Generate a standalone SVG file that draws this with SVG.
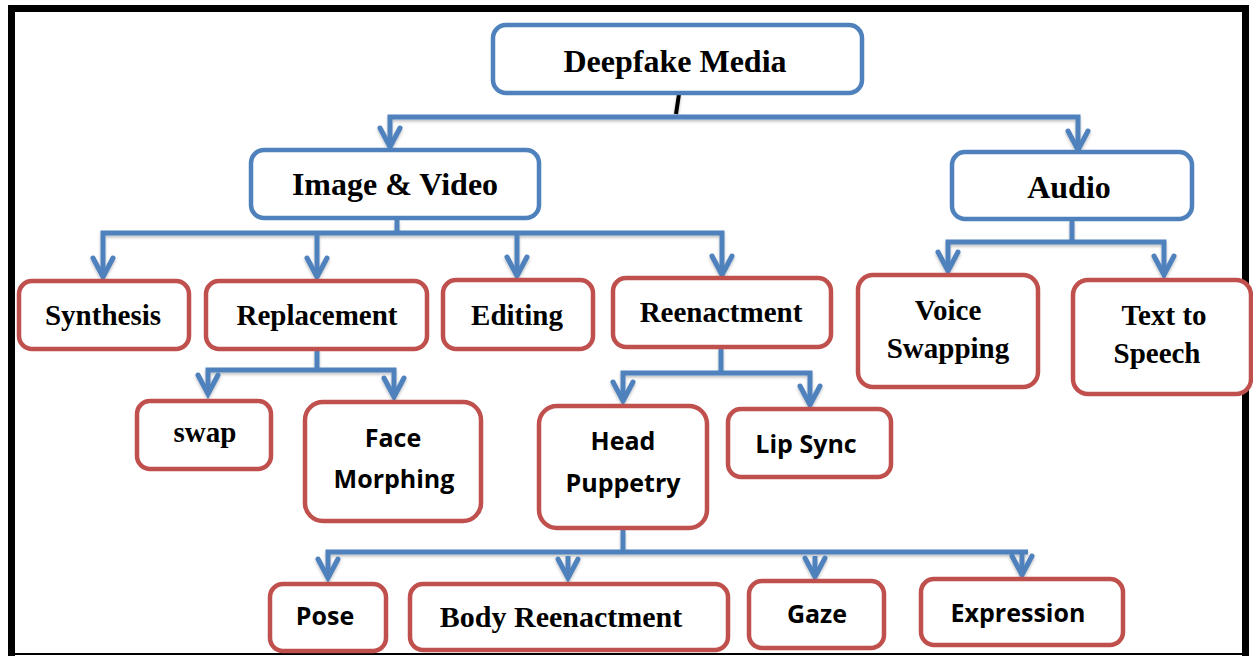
<svg xmlns="http://www.w3.org/2000/svg" width="1253" height="656" viewBox="0 0 1253 656">
<defs>
<style>
.bb{fill:#fff;stroke:#4F81BD;stroke-width:4.5}
.rb{fill:#fff;stroke:#C0504D;stroke-width:4.5}
.ser{font-family:"Liberation Serif","Times New Roman",serif;font-weight:bold;fill:#000;text-anchor:middle}
.big{font-size:32px}
.mid{font-size:29px}
.sans{font-family:"Open Sans","Liberation Sans",sans-serif;font-weight:bold;font-size:25px;fill:#000;text-anchor:middle}
.cn{fill:none;stroke:#4F81BD;stroke-width:5;stroke-linejoin:miter}
</style>
<marker id="arr" markerUnits="userSpaceOnUse" viewBox="-24 -14 30 28" markerWidth="30" markerHeight="28" refX="0" refY="0" orient="auto">
<path d="M-19,-10 L0,0 L-19,10" fill="none" stroke="#4F81BD" stroke-width="5" stroke-linecap="round" stroke-linejoin="miter"/>
</marker>
<filter id="sh" x="-5%" y="-20%" width="110%" height="160%">
<feDropShadow dx="0" dy="2" stdDeviation="1.5" flood-color="#000" flood-opacity="0.25"/>
</filter>
</defs>
<rect width="1253" height="656" fill="#fff"/>
<rect x="11.5" y="8.5" width="1234" height="660" fill="none" stroke="#000" stroke-width="7"/>
<line x1="8" y1="654" x2="1249" y2="654" stroke="#000" stroke-width="2"/>

<g id="connectors" filter="url(#sh)">
<line x1="679" y1="94" x2="676" y2="114" stroke="#000" stroke-width="4"/>
<path class="cn" d="M734,117 L390,117 L390,147" marker-end="url(#arr)"/>
<path class="cn" d="M734,117 L1078,117 L1078,150" marker-end="url(#arr)"/>
<path class="cn" d="M397,220 L397,233"/>
<path class="cn" d="M397,233 L103,233 L103,277" marker-end="url(#arr)"/>
<path class="cn" d="M317,233 L317,277" marker-end="url(#arr)"/>
<path class="cn" d="M517,233 L517,276" marker-end="url(#arr)"/>
<path class="cn" d="M397,233 L722,233 L722,275" marker-end="url(#arr)"/>
<path class="cn" d="M1072,220 L1072,242"/>
<path class="cn" d="M1072,242 L948,242 L948,271" marker-end="url(#arr)"/>
<path class="cn" d="M1072,242 L1164,242 L1164,275" marker-end="url(#arr)"/>
<path class="cn" d="M317,350 L317,370"/>
<path class="cn" d="M317,370 L208,370 L208,394" marker-end="url(#arr)"/>
<path class="cn" d="M317,370 L394,370 L394,397" marker-end="url(#arr)"/>
<path class="cn" d="M721,348 L721,373"/>
<path class="cn" d="M721,373 L623,373 L623,401" marker-end="url(#arr)"/>
<path class="cn" d="M721,373 L810,373 L810,405" marker-end="url(#arr)"/>
<path class="cn" d="M623,530 L623,552"/>
<path class="cn" d="M623,552 L328,552 L328,578" marker-end="url(#arr)"/>
<path class="cn" d="M568,556 L568,578" marker-end="url(#arr)"/>
<path class="cn" d="M623,552 L1028,552"/>
<path class="cn" d="M815,556 L815,577" marker-end="url(#arr)"/>
<path class="cn" d="M1022,552 L1022,575" marker-end="url(#arr)"/>
</g>

<g id="n-deepfake"><rect class="bb" x="493" y="25" width="369" height="68" rx="13"/><text class="ser big" x="675" y="72">Deepfake Media</text></g>
<g id="n-imagevideo"><rect class="bb" x="251" y="150" width="288" height="68" rx="13"/><text class="ser big" x="395" y="195">Image &amp; Video</text></g>
<g id="n-audio"><rect class="bb" x="952" y="152" width="240" height="67" rx="13"/><text class="ser big" x="1069" y="198">Audio</text></g>

<g id="n-synthesis"><rect class="rb" x="19" y="281" width="170" height="68" rx="13"/><text class="ser mid" x="103" y="325">Synthesis</text></g>
<g id="n-replacement"><rect class="rb" x="206" y="281" width="221" height="68" rx="13"/><text class="ser mid" x="317" y="325">Replacement</text></g>
<g id="n-editing"><rect class="rb" x="443" y="280" width="150" height="69" rx="13"/><text class="ser mid" x="517" y="325">Editing</text></g>
<g id="n-reenactment"><rect class="rb" x="613" y="278" width="218" height="69" rx="13"/><text class="ser mid" x="721" y="322">Reenactment</text></g>
<g id="n-voice"><rect class="rb" x="858" y="275" width="180" height="112" rx="15"/><text class="ser mid" x="948" y="320">Voice</text><text class="ser mid" x="948" y="358">Swapping</text></g>
<g id="n-tts"><rect class="rb" x="1073" y="280" width="178" height="114" rx="15"/><text class="ser mid" x="1164" y="325">Text to</text><text class="ser mid" x="1157" y="363">Speech</text></g>

<g id="n-swap"><rect class="rb" x="137" y="401" width="134" height="68" rx="13"/><text class="ser mid" x="205" y="442">swap</text></g>
<g id="n-face"><rect class="rb" x="305" y="402" width="176" height="119" rx="18"/><text class="sans" x="393" y="447">Face</text><text class="sans" x="394" y="488">Morphing</text></g>
<g id="n-head"><rect class="rb" x="539" y="406" width="168" height="122" rx="18"/><text class="sans" x="623" y="450">Head</text><text class="sans" x="623" y="492">Puppetry</text></g>
<g id="n-lipsync"><rect class="rb" x="728" y="409" width="163" height="68" rx="13"/><text class="sans" x="806" y="453">Lip Sync</text></g>

<g id="n-pose"><rect class="rb" x="270" y="584" width="116" height="67" rx="13"/><text class="sans" x="325" y="625">Pose</text></g>
<g id="n-body"><rect class="rb" x="410" y="584" width="318" height="66" rx="13"/><text class="ser" style="font-size:30px" x="561" y="627">Body Reenactment</text></g>
<g id="n-gaze"><rect class="rb" x="749" y="581" width="135" height="67" rx="13"/><text class="sans" x="817" y="623">Gaze</text></g>
<g id="n-expression"><rect class="rb" x="921" y="579" width="202" height="66" rx="13"/><text class="sans" x="1018" y="622">Expression</text></g>
</svg>
